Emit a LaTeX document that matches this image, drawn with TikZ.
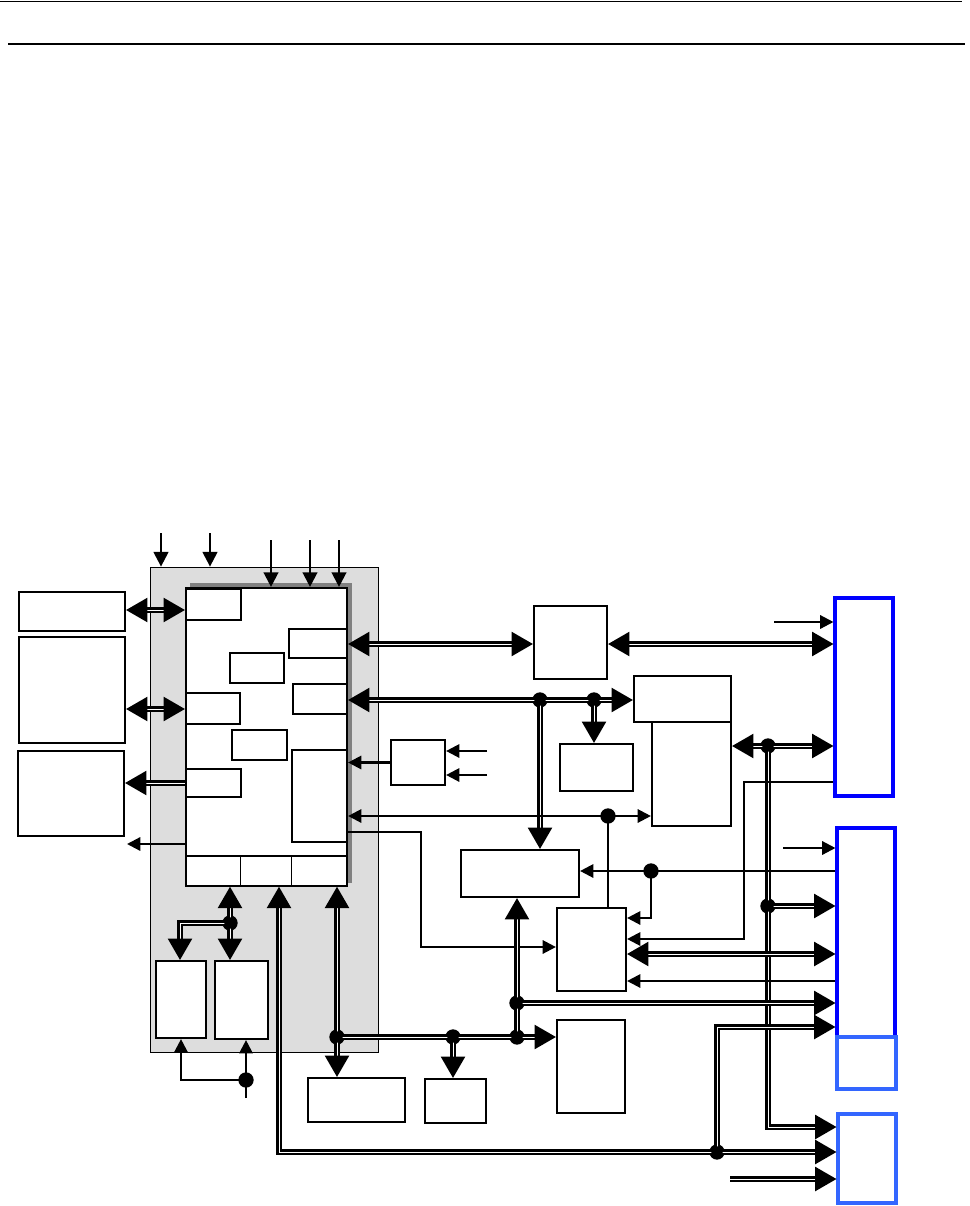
\documentclass[tikz,border=0pt]{standalone}
\usepackage{tikz}
\usetikzlibrary{arrows.meta,fit,positioning}
\definecolor{portA}{RGB}{0,0,255}
\definecolor{portB}{RGB}{51,102,255}
\definecolor{shellgray}{RGB}{221,221,221}
\definecolor{shadowgray}{RGB}{128,128,128}

\begin{document}
\begin{tikzpicture}[x=0.75pt, y=-0.75pt,
  blk/.style={draw, line width=1.6pt, fill=white, inner sep=0pt},
  cell/.style={draw, line width=1.1pt, fill=white, inner sep=0pt},
  portbox/.style={draw=portA, line width=2.3pt, inner sep=0pt},
  portboxlt/.style={draw=portB, line width=2.3pt, inner sep=0pt},
  bus/.style={line width=1.75pt, double=white, double distance=0.7pt},
  wire/.style={line width=1.7pt},
  jn/.style={circle, fill, inner sep=0pt, minimum size=11.5pt},
  bigtip/.tip={Triangle[length=16pt, width=18pt]},
  midtip/.tip={Triangle[length=11pt, width=11pt]},
  smltip/.tip={Triangle[length=10pt, width=10pt]}]
  \useasboundingbox (0,0) rectangle (970,1206);
  % header rules
  \draw[line width=1.2pt] (0,1.5) -- (962,1.5);
  \draw[line width=1.1pt] (8,44) -- (965,44);
  % grey shell, shadow and the chip with its inner blocks
  \node[draw, line width=0.6pt, fill=shellgray, inner sep=0pt, fit={(150,567) (378,1052)}] (shell) {};
  \fill[shadowgray] (190,583) rectangle (352,883);
  \node[blk, fit={(186,588) (347,886)}] (chip) {};
  \node[cell, fit={(186,856) (240.5,886)}] (bankA) {};
  \node[cell, fit={(240.5,856) (291.5,886)}] (bankB) {};
  \node[cell, fit={(291.5,856) (347,886)}] (bankC) {};
  \node[blk, fit={(186,589) (241,620)}] (subA) {};
  \node[blk, fit={(289,629) (347,658)}] (subB) {};
  \node[blk, fit={(230,653) (284,683)}] (subC) {};
  \node[blk, fit={(186,693) (240,724)}] (subD) {};
  \node[blk, fit={(293,684) (347,714)}] (subE) {};
  \node[blk, fit={(232,730) (287,760)}] (subF) {};
  \node[blk, fit={(186,769) (241,797)}] (subG) {};
  \node[blk, fit={(292,750) (347,842)}] (subH) {};
  % left blocks
  \node[blk, fit={(19,592) (125,631)}] (lone) {};
  \node[blk, fit={(19,637) (125,743)}] (ltwo) {};
  \node[blk, fit={(18,751) (124,836)}] (lthree) {};
  % middle blocks
  \node[blk, fit={(534,606) (607,679)}] (mone) {};
  \node[blk, fit={(560,744) (633,791)}] (sone) {};
  \node[blk, fit={(391,740) (445,785)}] (kbox) {};
  \node[blk, fit={(634,676) (731,722)}] (mtwoa) {};
  \node[blk, fit={(652,722) (731,826)}] (mtwob) {};
  \node[blk, fit={(461,850) (579,897)}] (mthree) {};
  \node[blk, fit={(557,908) (626,991)}] (rbox) {};
  \node[blk, fit={(557,1020) (625,1113)}] (mfour) {};
  \node[blk, fit={(308,1078) (405,1122)}] (qone) {};
  \node[blk, fit={(425,1079) (486,1123)}] (qtwo) {};
  \node[blk, fit={(156,961) (206,1038)}] (pone) {};
  \node[blk, fit={(215,961) (268,1039)}] (ptwo) {};
  % port blocks on the right
  \node[portbox, fit={(835,598) (893,796)}] (bone) {};
  \node[portbox, fit={(837,828) (895,1037)}] (btwo) {};
  \node[portboxlt, fit={(837,1037) (896,1089)}] (btwob) {};
  \node[portboxlt, fit={(838,1114) (896,1203)}] (bthree) {};
  % junctions
  \node[jn] (j1) at (540,700) {};
  \node[jn] (j2) at (594,700) {};
  \node[jn] (j3) at (608,816) {};
  \node[jn] (j4) at (768,746) {};
  \node[jn] (j5) at (768,906) {};
  \node[jn] (j6) at (651,871) {};
  \node[jn] (j7) at (517,1003) {};
  \node[jn] (j8) at (517,1037) {};
  \node[jn] (j9) at (453,1037) {};
  \node[jn] (j10) at (337,1037) {};
  \node[jn] (j11) at (230,923) {};
  \node[jn] (j12) at (717,1152) {};
  \node[jn] (j13) at (246,1080) {};
  % free ends
  \coordinate (outL) at (127,844);
  \coordinate (inB1) at (774,622);
  \coordinate (inB2) at (783,848);
  \coordinate (inB3) at (730,1179);
  \coordinate (kin1) at (487,751);
  \coordinate (kin2) at (487,775);
  \coordinate (pin) at (246,1098);
  % inputs from above
  \foreach \x in {161,210}
    \draw[wire, -{midtip}] (\x,533) -- (\x,0 |- shell.north);
  \foreach \x in {271,310,339}
    \draw[wire, -{midtip}] (\x,540) -- (\x,0 |- chip.north);
  % left side links
  \draw[bus, {bigtip}-{bigtip}] (lone.east |- 0,610) -- (subA.west |- 0,610);
  \draw[bus, {bigtip}-{bigtip}] (ltwo.east |- 0,709) -- (subD.west |- 0,709);
  \draw[bus, -{bigtip}] (chip.west |- 0,783) -- (lthree.east |- 0,783);
  \draw[wire, -{smltip}] (chip.west |- outL) -- (outL);
  % right side of the chip
  \draw[bus, {bigtip}-{bigtip}] (chip.east |- 0,644) -- (mone.west |- 0,644);
  \draw[bus, {bigtip}-{bigtip}] (mone.east |- 0,644) -- (bone.west |- 0,644);
  \draw[wire, -{smltip}] (inB1) -- (bone.west |- inB1);
  \draw[bus, {bigtip}-{bigtip}] (chip.east |- j1) -- (mtwoa.west |- j1);
  \draw[bus, -{bigtip}] (j2.center) -- (sone.north -| j2);
  \draw[bus, -{bigtip}] (j1.center) -- (mthree.north -| j1);
  \draw[wire, {smltip}-] (chip.east |- kbox.west) -- (kbox.west);
  \draw[wire, -{smltip}] (kin1) -- (kbox.east |- kin1);
  \draw[wire, -{smltip}] (kin2) -- (kbox.east |- kin2);
  \draw[wire, {smltip}-{smltip}] (chip.east |- j3) -- (mtwob.west |- j3);
  \draw[wire] (j3.center) -- (rbox.north -| j3);
  \draw[wire, -{smltip}] (chip.east |- 0,832) -| (421,947) -- (rbox.west |- 0,947);
  \draw[bus, {bigtip}-{bigtip}] (mtwob.east |- j4) -- (bone.west |- j4);
  \draw[bus, -{bigtip}] (j4.center) |- (bthree.west |- 0,1127);
  \draw[bus, -{bigtip}] (j5.center) -- (btwo.west |- j5);
  \draw[wire, -{smltip}] (bone.west |- 0,782) -| (744,939) -- (rbox.east |- 0,939);
  \draw[wire, -{smltip}] (btwo.west |- j6) -- (mthree.east |- j6);
  \draw[wire, -{smltip}] (j6.center) |- (rbox.east |- 0,918);
  \draw[wire, -{smltip}] (inB2) -- (btwo.west |- inB2);
  \draw[bus, {bigtip}-{bigtip}] (rbox.east |- 0,954) -- (btwo.west |- 0,954);
  \draw[wire, -{smltip}] (btwo.west |- 0,981) -- (rbox.east |- 0,981);
  \draw[bus, -{bigtip}] (j7.center) -- (btwo.west |- j7);
  \draw[bus, -{bigtip}] (j12.center) |- (btwo.west |- 0,1027);
  \draw[bus, {bigtip}-{bigtip}] (bankB.south -| 279,0) |- (bthree.west |- j12);
  \draw[bus, -{bigtip}] (inB3) -- (bthree.west |- inB3);
  % lower part
  \draw[bus, {bigtip}-{bigtip}] (bankA.south -| j11) -- (ptwo.north -| j11);
  \draw[bus, -{bigtip}] (j11.center) -| (pone.north -| 180,0);
  \draw[bus, {bigtip}-{bigtip}] (bankC.south -| j10) -- (qone.north -| j10);
  \draw[bus, -{bigtip}] (j10.center) -- (mfour.west |- j10);
  \draw[bus, -{bigtip}] (j9.center) -- (qtwo.north -| j9);
  \draw[bus, -{bigtip}] (j8.center) -- (mthree.south -| j8);
  \draw[wire, -{smltip}] (pin) -- (ptwo.south -| pin);
  \draw[wire, -{smltip}] (j13.center) -| (pone.south -| 181,0);
  % junction dots on top of the links
  \foreach \j in {j1,j2,j3,j4,j5,j6,j7,j8,j9,j10,j11,j12,j13}
    \fill (\j) circle (4.3pt);
\end{tikzpicture}
\end{document}
